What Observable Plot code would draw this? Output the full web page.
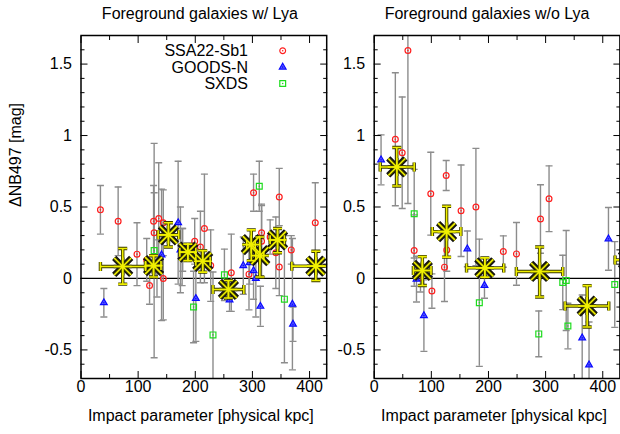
<!DOCTYPE html>
<html><head><meta charset="utf-8">
<script src="https://cdn.jsdelivr.net/npm/d3@7"></script>
<script src="https://cdn.jsdelivr.net/npm/@observablehq/plot@0.6"></script>
<style>
html,body{margin:0;padding:0;background:#fff;overflow:hidden;}
#wrap{position:relative;width:620px;height:434px;overflow:hidden;background:#fff;}
#wrap svg{position:absolute;top:0;}
</style></head><body><div id="wrap"></div>
<script>
// ---------- tick values ----------
const xMajor = [0, 100, 200, 300, 400];
const xMinor = [50, 150, 250, 350];
const yMajor = [-0.5, 0, 0.5, 1, 1.5];
const yMinor = [-0.6, -0.4, -0.3, -0.2, -0.1, 0.1, 0.2, 0.3, 0.4, 0.6, 0.7, 0.8, 0.9, 1.1, 1.2, 1.3, 1.4, 1.6];
const titles = ["Foreground galaxies w/ Lya", "Foreground galaxies w/o Lya"];
const xLabel = "Impact parameter [physical kpc]";
const yLabel = "\u0394NB497 [mag]";
const legendNames = ["SSA22-Sb1", "GOODS-N", "SXDS"];

// ---------- left panel (w/ Lya) ----------
const L_ssa_x = [34, 65, 98, 115, 120, 127, 128, 133, 136, 144, 144, 177, 178, 199, 209, 216, 227, 263, 294, 302, 316, 316, 331, 341, 347, 347, 368, 410];
const L_ssa_y = [0.48, 0.40, 0.17, 0.13, -0.05, 0.40, 0.32, 0.07, 0.42, 0.39, 0.00, 0.15, 0.20, 0.26, 0.22, 0.35, 0.09, 0.04, 0.03, 0.60, 0.32, 0.26, 0.29, 0.18, 0.57, 0.08, 0.20, 0.39];
const L_ssa_e = [0.17, 0.24, 0.22, 0.15, 0.13, 0.25, 0.28, 0.20, 0.39, 0.23, 0.29, 0.20, 0.15, 0.16, 0.25, 0.38, 0.25, 0.27, 0.25, 0.13, 0.20, 0.25, 0.12, 0.25, 0.20, 0.20, 0.10, 0.28];
const L_goods_x = [40, 141, 170, 174, 201, 260, 284, 295, 302, 306, 314, 370, 371];
const L_goods_y = [-0.17, 0.165, 0.39, 0.20, -0.14, -0.15, 0.09, 0.11, 0.055, 0.00, -0.195, -0.18, -0.32];
const L_goods_e = [0.10, 0.46, 0.43, 0.30, 0.30, 0.08, 0.20, 0.15, 0.20, 0.27, 0.14, 0.46, 0.12];
const L_sxds_x = [128, 197, 231, 251, 312, 356];
const L_sxds_y = [0.195, -0.20, -0.395, 0.025, 0.645, -0.145];
const L_sxds_e = [0.75, 0.25, 0.44, 0.18, 0.175, 0.445];
const L_mean_x = [73, 127, 153, 187, 213, 258, 298, 313, 344, 411];
const L_mean_y = [0.084, 0.09, 0.305, 0.184, 0.12, -0.077, 0.237, 0.16, 0.27, 0.086];
const L_mean_xlo = [34, 113, 135, 173, 201, 231, 290, 306, 331, 369];
const L_mean_xhi = [113, 140, 171, 201, 226, 285, 305, 320, 356, 445];
const L_mean_ylo = [-0.04, 0.01, 0.22, 0.125, 0.044, -0.137, 0.125, 0.01, 0.18, -0.014];
const L_mean_yhi = [0.21, 0.16, 0.39, 0.24, 0.195, -0.014, 0.34, 0.29, 0.35, 0.19];

// ---------- right panel (w/o Lya) ----------
const R_ssa_x = [37, 49, 59, 70, 81, 99, 101, 123, 126, 127, 152, 178, 226, 249, 291, 306];
const R_ssa_y = [0.974, 0.88, 1.595, 0.195, 0.005, 0.593, -0.088, 0.079, 0.72, 0.20, 0.474, 0.50, 0.188, 0.172, 0.416, 0.558];
const R_ssa_e = [0.465, 0.39, 1.07, 0.25, 0.10, 0.29, 0.12, 0.24, 0.105, 0.15, 0.32, 0.41, 0.11, 0.22, 0.24, 0.23];
const R_goods_x = [12, 74, 87, 163, 193, 364, 376, 410];
const R_goods_y = [0.83, -0.005, -0.26, 0.207, -0.049, -0.416, -0.605, 0.277];
const R_goods_e = [0.175, 0.16, 0.25, 0.125, 0.09, 0.30, 0.30, 0.22];
const R_sxds_x = [70, 184, 288, 330, 336, 339, 421];
const R_sxds_y = [0.453, -0.17, -0.388, -0.028, -0.014, -0.333, -0.042];
const R_sxds_e = [0.31, 0.445, 0.16, 0.19, 0.35, 0.16, 0.30];
const R_mean_x = [39.5, 84.3, 126.7, 193.6, 289.5, 372.7, 445];
const R_mean_y = [0.78, 0.056, 0.328, 0.074, 0.049, -0.193, 0.13];
const R_mean_xlo = [10.5, 68.6, 101.7, 161.6, 248.8, 334, 421.5];
const R_mean_xhi = [70, 99.4, 151.7, 226.7, 330, 410.5, 470];
const R_mean_ylo = [0.647, -0.049, 0.149, 0.009, -0.13, -0.34, 0.03];
const R_mean_yhi = [0.916, 0.153, 0.505, 0.144, 0.22, -0.05, 0.23];

// ---------- helpers ----------
const GRAY = "#8c8c8c";
const RED = "#ff1f1f", BLUE = "#0a0aff", GREEN = "#1fdc1f";
const YEL = "#f0f000", DARK = "#111111";

const rows = (xs, ys, es) => xs.map((x, i) => ({x, y: ys[i], lo: ys[i] - es[i], hi: ys[i] + es[i]}));
const meanRows = (xs, ys, xl, xh, yl, yh) => xs.map((x, i) => ({x, y: ys[i], xlo: xl[i], xhi: xh[i], ylo: yl[i], yhi: yh[i]}));

const hCap = w => ({draw(c) { c.moveTo(-w, 0); c.lineTo(w, 0); }});
const vCap = h => ({draw(c) { c.moveTo(0, -h); c.lineTo(0, h); }});
const star = (a, p) => ({draw(c) {
  c.moveTo(-a, -a); c.lineTo(a, a); c.moveTo(-a, a); c.lineTo(a, -a);
  c.moveTo(-p, 0); c.lineTo(p, 0); c.moveTo(0, -p); c.lineTo(0, p);
}});
const cross = a => ({draw(c) { c.moveTo(-a, -a); c.lineTo(a, a); c.moveTo(-a, a); c.lineTo(a, -a); }});

function errMarks(d) {
  return [
    Plot.ruleX(d, {x: "x", y1: "lo", y2: "hi", stroke: GRAY, strokeWidth: 1.4, clip: true}),
    Plot.dot(d, {x: "x", y: "lo", r: 3, symbol: hCap(3.5), fill: "none", stroke: GRAY, strokeWidth: 1.4, clip: true}),
    Plot.dot(d, {x: "x", y: "hi", r: 3, symbol: hCap(3.5), fill: "none", stroke: GRAY, strokeWidth: 1.4, clip: true})
  ];
}
function pointMarks(d, symbol, color, r, fill) {
  return [
    Plot.dot(d, {x: "x", y: "y", r, symbol, fill, stroke: color, strokeWidth: 1.2, clip: true}),
    Plot.dot(d, {x: "x", y: "y", r: 0.8, fill: color, clip: true})
  ];
}
function meanMarks(m) {
  const bars = (color, w) => [
    Plot.ruleX(m, {x: "x", y1: "ylo", y2: "yhi", stroke: color, strokeWidth: w, clip: true}),
    Plot.ruleY(m, {y: "y", x1: "xlo", x2: "xhi", stroke: color, strokeWidth: w, clip: true}),
    Plot.dot(m, {x: "x", y: "ylo", r: 3, symbol: hCap(4.5), fill: "none", stroke: color, strokeWidth: w, clip: true}),
    Plot.dot(m, {x: "x", y: "yhi", r: 3, symbol: hCap(4.5), fill: "none", stroke: color, strokeWidth: w, clip: true}),
    Plot.dot(m, {x: "xlo", y: "y", r: 3, symbol: vCap(4.5), fill: "none", stroke: color, strokeWidth: w, clip: true}),
    Plot.dot(m, {x: "xhi", y: "y", r: 3, symbol: vCap(4.5), fill: "none", stroke: color, strokeWidth: w, clip: true})
  ];
  return [
    ...bars("#3a3a00", 3.4),
    Plot.dot(m, {x: "x", y: "y", r: 5, symbol: cross(8.5), fill: "none", stroke: DARK, strokeWidth: 6, clip: true}),
    Plot.dot(m, {x: "x", y: "y", r: 5, symbol: star(8.5, 9), fill: "none", stroke: "#3a3a00", strokeWidth: 3.4, clip: true}),
    ...bars(YEL, 1.6),
    Plot.dot(m, {x: "x", y: "y", r: 5, symbol: star(8.5, 9), fill: "none", stroke: YEL, strokeWidth: 1.6, clip: true})
  ];
}

function panel(o) {
  const red = rows(o.ssa[0], o.ssa[1], o.ssa[2]);
  const blue = rows(o.goods[0], o.goods[1], o.goods[2]);
  const green = rows(o.sxds[0], o.sxds[1], o.sxds[2]);
  const means = meanRows(...o.mean);
  const marks = [
    Plot.ruleY([0], {stroke: "#000", strokeWidth: 1.3}),
    ...errMarks(red), ...errMarks(blue), ...errMarks(green),
    ...pointMarks(red, "circle", RED, 2.9, "none"),
    ...pointMarks(blue, "triangle", BLUE, 2.5, "#5a5aff"),
    ...pointMarks(green, "square", GREEN, 3.3, "none"),
    ...meanMarks(means),
    Plot.frame({stroke: "#000", strokeWidth: 1.5}),
    Plot.axisX({anchor: "bottom", ticks: xMajor, tickSize: -7, tickPadding: 9, tickFormat: d => String(d), label: null}),
    Plot.axisX({anchor: "bottom", ticks: xMinor, tickSize: -4, tickFormat: () => "", label: null}),
    Plot.axisX({anchor: "top", ticks: xMajor, tickSize: -7, tickFormat: () => "", label: null}),
    Plot.axisX({anchor: "top", ticks: xMinor, tickSize: -4, tickFormat: () => "", label: null}),
    Plot.axisY({anchor: "left", ticks: yMajor, tickSize: -7, tickPadding: 16, tickFormat: d => String(d), label: null}),
    Plot.axisY({anchor: "left", ticks: yMinor, tickSize: -4, tickFormat: () => "", label: null}),
    Plot.axisY({anchor: "right", ticks: yMajor, tickSize: -7, tickFormat: () => "", label: null}),
    Plot.axisY({anchor: "right", ticks: yMinor, tickSize: -4, tickFormat: () => "", label: null}),
    Plot.text([o.title], {frameAnchor: "top", dy: -28, dx: o.titleDx, lineAnchor: "top", fontSize: 16}),
    Plot.text([xLabel], {frameAnchor: "bottom", dy: 31, dx: -3, lineAnchor: "top", fontSize: 16})
  ];
  if (o.ylabel) marks.push(Plot.text([o.ylabel], {frameAnchor: "left", rotate: -90, dx: -65, fontSize: 16}));
  return Plot.plot({
    width: o.width, height: 434,
    marginLeft: o.marginLeft, marginRight: o.marginRight, marginTop: 35, marginBottom: 56,
    x: {domain: [0, 430]},
    y: {domain: [-0.7, 1.7]},
    style: {fontFamily: "'Liberation Sans', Arial, Helvetica, sans-serif", fontSize: "16px", color: "#000", background: "transparent", overflow: "visible"},
    marks
  });
}

const wrap = document.getElementById("wrap");
const left = panel({
  width: 340, marginLeft: 80.5, marginRight: 340 - 326.2,
  title: titles[0], titleDx: -4, ylabel: yLabel,
  ssa: [L_ssa_x, L_ssa_y, L_ssa_e], goods: [L_goods_x, L_goods_y, L_goods_e], sxds: [L_sxds_x, L_sxds_y, L_sxds_e],
  mean: [L_mean_x, L_mean_y, L_mean_xlo, L_mean_xhi, L_mean_ylo, L_mean_yhi]
});
left.style.left = "0px";
wrap.appendChild(left);

const right = panel({
  width: 280, marginLeft: 33.7, marginRight: 0.6,
  title: titles[1], titleDx: -10, ylabel: null,
  ssa: [R_ssa_x, R_ssa_y, R_ssa_e], goods: [R_goods_x, R_goods_y, R_goods_e], sxds: [R_sxds_x, R_sxds_y, R_sxds_e],
  mean: [R_mean_x, R_mean_y, R_mean_xlo, R_mean_xhi, R_mean_ylo, R_mean_yhi]
});
right.style.left = "340px";
wrap.appendChild(right);

// ---------- legend (inside left panel, top right) ----------
const lg = d3.select(left).append("g").attr("font-size", 16);
const legendSyms = [["circle", RED, 2.9, "none"], ["triangle", BLUE, 2.5, "#5a5aff"], ["square", GREEN, 3.3, "none"]];
const symMap = {circle: d3.symbolCircle, triangle: d3.symbolTriangle, square: d3.symbolSquare};
legendNames.forEach((name, i) => {
  const cy = 50.7 + i * 16.4;
  lg.append("text").attr("x", 248).attr("y", cy + 5.6).attr("text-anchor", "end").attr("fill", "#000").text(name);
  const [s, c, r, f] = legendSyms[i];
  lg.append("path").attr("transform", `translate(282.7,${cy})`)
    .attr("d", d3.symbol(symMap[s], r * r * Math.PI)()).attr("fill", f).attr("stroke", c).attr("stroke-width", 1.2);
  lg.append("circle").attr("cx", 282.7).attr("cy", cy).attr("r", 0.8).attr("fill", c);
});
</script></body></html>
